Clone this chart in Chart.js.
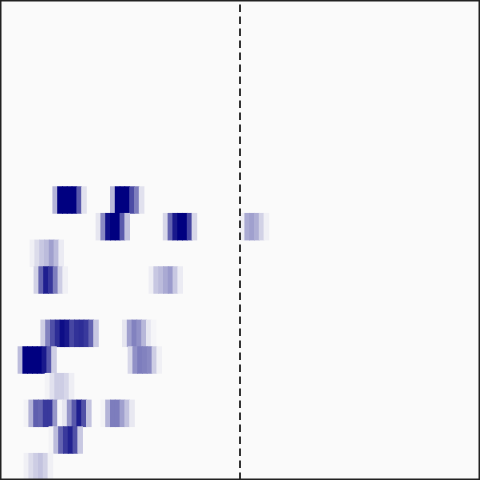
<!DOCTYPE html>
<html>
<head>
<meta charset="utf-8">
<script src="https://cdn.jsdelivr.net/npm/chart.js@4/dist/chart.umd.min.js"></script>
<style>
  html, body { margin: 0; padding: 0; background: #fafafa; }
  #wrap { width: 480px; height: 480px; }
  canvas { display: block; background: #fafafa; }
</style>
</head>
<body>
<div id="wrap"><canvas id="c" width="480" height="480"></canvas></div>
<script>
// Rows of the heatmap (top to bottom)
const rowLabels = ['r1','r2','r3','r4','r5','r6','r7','r8','r9','r10','r11','r12','r13','r14','r15','r16','r17','r18'];
// Each blob: row index, start position (column units on a 0-100 axis), run of cell intensities (0..1)
const blobRow   = [7, 7, 8, 8, 8, 9, 10, 10, 12, 12, 13, 13, 14, 15, 16, 17];
const blobStart = [11, 23, 20, 34, 50, 6.25, 7.08, 31.04, 8.5, 25.5, 3.75, 26.67, 9.4, 5, 10.2, 5];
const blobValues = [
  [0.28, 1, 1, 1, 1, 0.64, 0.1],
  [0.26, 1, 1, 1, 0.7, 0.5, 0.1],
  [0.08, 0.45, 0.93, 1, 1, 0.64, 0.22],
  [0.14, 0.6, 0.9, 1, 1, 0.72, 0.14],
  [0.05, 0.32, 0.36, 0.3, 0.16, 0.04],
  [0.04, 0.12, 0.2, 0.25, 0.36, 0.25, 0.06],
  [0.16, 0.6, 0.88, 0.78, 0.5, 0.18, 0.04],
  [0.05, 0.2, 0.25, 0.32, 0.38, 0.2, 0.06],
  [0.18, 0.48, 0.68, 0.82, 0.95, 0.9, 0.72, 0.8, 0.82, 0.77, 0.6, 0.2],
  [0.08, 0.36, 0.48, 0.42, 0.27, 0.08, 0.02],
  [0.25, 1, 1, 1, 1, 0.9, 0.65, 0.18],
  [0.14, 0.42, 0.5, 0.48, 0.45, 0.18, 0.04],
  [0.03, 0.1, 0.18, 0.18, 0.14, 0.05],
  [0.03, 0.28, 0.62, 0.6, 0.77, 0.77, 0.4, 0.02, 0.08, 0.4, 0.65, 0.88, 0.68, 0.22, 0, 0, 0.03, 0.28, 0.5, 0.5, 0.36, 0.22, 0.07],
  [0.03, 0.25, 0.6, 0.77, 0.87, 0.68, 0.2],
  [0.04, 0.12, 0.18, 0.22, 0.16, 0.04]
];
const xMin = 0, xMax = 100;
const markerX = 50;

function colorFor(v) {
  const r = Math.round(250 * (1 - v));
  const b = Math.round(250 - 122 * v);
  return `rgb(${r},${r},${b})`;
}

const cells = [];
const cellColors = [];
blobValues.forEach((vals, bi) => {
  vals.forEach((v, i) => {
    if (v <= 0) return;
    cells.push({ x: [blobStart[bi] + i, blobStart[bi] + i + 1], y: rowLabels[blobRow[bi]] });
    cellColors.push(colorFor(v));
  });
});

const framePlugin = {
  id: 'frame',
  beforeDraw(chart) {
    const ctx = chart.ctx;
    ctx.save();
    ctx.fillStyle = '#fafafa';
    ctx.fillRect(0, 0, chart.width, chart.height);
    ctx.restore();
  },
  afterDatasetsDraw(chart) {
    const ctx = chart.ctx;
    const a = chart.chartArea;
    const x = chart.scales.x.getPixelForValue(markerX);
    ctx.save();
    ctx.strokeStyle = '#333333';
    ctx.lineWidth = 2;
    ctx.setLineDash([7.5, 4.5]);
    ctx.lineDashOffset = 7.5;
    ctx.beginPath();
    ctx.moveTo(x, a.top);
    ctx.lineTo(x, a.bottom);
    ctx.stroke();
    ctx.setLineDash([]);
    ctx.lineWidth = 1.5;
    ctx.strokeStyle = '#222222';
    ctx.strokeRect(a.left + 0.75, a.top + 0.75, a.width - 1.5, a.height - 1.5);
    ctx.restore();
  }
};

new Chart(document.getElementById('c'), {
  type: 'bar',
  data: {
    labels: rowLabels,
    datasets: [{
      data: cells,
      backgroundColor: cellColors,
      borderWidth: 0,
      inflateAmount: 0.4,
      barPercentage: 1,
      categoryPercentage: 1
    }]
  },
  options: {
    indexAxis: 'y',
    responsive: false,
    animation: false,
    layout: { padding: 0 },
    plugins: { legend: { display: false }, tooltip: { enabled: false } },
    scales: {
      x: { type: 'linear', min: xMin, max: xMax, display: false },
      y: { type: 'category', display: false, offset: true }
    }
  },
  plugins: [framePlugin]
});
</script>
</body>
</html>
